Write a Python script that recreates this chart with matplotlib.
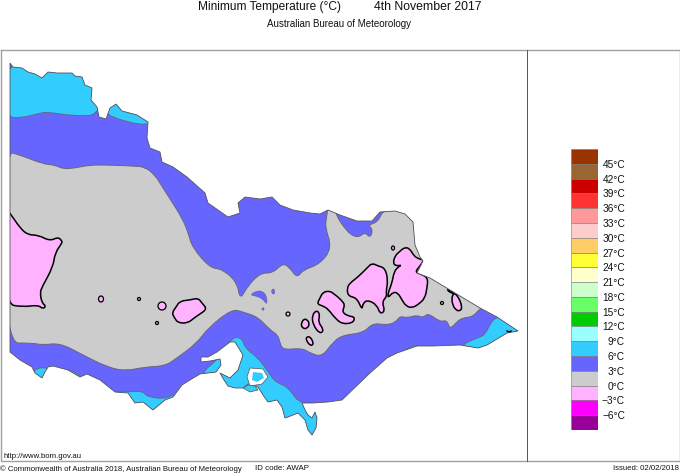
#!/bin/python3

import matplotlib
matplotlib.use('Agg')
import matplotlib.pyplot as plt
from matplotlib.patches import Polygon, Ellipse, PathPatch
from matplotlib.path import Path

plt.rcParams['font.family'] = ['Liberation Sans', 'DejaVu Sans']

# colour key, top cell to bottom cell
key_colors = ['#993300', '#996633', '#cc0000', '#ff3333', '#ff9999', '#ffcccc',
              '#ffcc66', '#ffff33', '#ffffcc', '#ccffcc', '#66ff66', '#00cc00',
              '#99ffff', '#33ccff', '#6666ff', '#cccccc', '#ffb3ff', '#ff00ff',
              '#990099']
key_labels = ['45', '42', '39', '36', '33', '30', '27', '24', '21', '18', '15',
              '12', '9', '6', '3', '0', '\u22123', '\u22126']

# map outlines
state = [(10,63),(13,67),(22,68),(28,72),(35,74),(42,78),(48,72),(57,73),(72,73),
         (75,76),(82,77),(85,85),(92,88),(91,100),(97,107),(99,117),(106,119),
         (110,108),(116,104),(122,111),(137,115),(148,122),(147,138),(150,148),
         (160,152),(162,162),(173,167),(187,177),(205,193),(208,203),(228,217),
         (240,213),(238,203),(245,197),(260,199),(272,197),(280,205),(293,210),
         (310,213),(320,214),(328,210),(340,215),(357,221),(372,221),(380,212),
         (395,211),(405,214),(413,222),(415,245),(420,257),(423,261),(417,273),
         (430,278),(480,308),(497,317),(518,331),(507,333),(487,345),(478,348),
         (460,345),(433,346),(417,346),(397,353),(387,358),(370,373),(342,400),
         (328,402),(313,403),(302,403),(305,410),(308,415),(312,418),(315,412),
         (317,418),(316,428),(312,435),(308,430),(305,420),(298,413),(288,417),
         (285,418),(282,407),(277,400),(268,402),(263,395),(258,387),(248,384),
         (243,388),(235,388),(228,386),(224,380),(220,373),(230,378),(238,370),
         (243,355),(235,342),(230,342),(217,352),(208,357),(201,357),(201,362),
         (210,361),(220,359),(221,365),(216,372),(200,374),(190,380),(182,385),
         (173,397),(165,400),(153,410),(143,402),(135,403),(128,393),(115,392),
         (100,380),(87,374),(80,377),(68,370),(53,366),(48,367),(45,372),(42,378),
         (35,373),(32,367),(20,360),(10,352)]

cool_zone = [(5,151),(20,155),(43,164),(55,165),(63,169),(75,168),(90,165),(107,165),
             (133,166),(145,167),(155,175),(163,188),(172,202),(182,218),(188,232),
             (192,247),(210,268),(222,269),(237,282),(240,300),(247,287),(260,273),
             (273,273),(283,263),(290,268),(297,278),(303,270),(320,264),(332,248),
             (325,227),(327,215),(328,205),(336,205),(335,214),(348,233),(358,238),
             (365,232),(370,238),(373,230),(368,225),(378,222),(384,208),(430,205),
             (500,300),(480,308),(473,317),(460,318),(450,330),(447,320),(440,322),
             (428,313),(423,318),(417,315),(407,318),(400,316),(395,323),(385,325),
             (373,323),(363,333),(343,335),(333,342),(322,357),(310,353),(302,348),
             (283,350),(280,343),(278,335),(270,330),(258,317),(243,312),(232,309),
             (208,328),(197,343),(177,358),(165,366),(145,367),(125,371),(107,367),
             (83,355),(60,343),(43,345),(32,343),(5,343)]

mild_patches = [[(250,295),(256,291),(263,291),(267,297),(267,305),(263,299),(256,296)],
                [(271,292),(273,288),(275,291),(274,295)],
                [(261,309),(264,307),(264,311)]]

warm_zones = [[(5,117),(22,118),(40,113),(48,112),(73,116),(103,115),(100,55),(5,55)],
              [(110,117),(148,127),(155,115),(115,95),(105,110)],
              [(33,369),(48,367),(52,375),(52,385),(28,385)],
              [(66,368),(82,376),(82,385),(60,375)],
              [(112,391),(128,392),(143,391),(147,397),(167,399),(176,392),(176,420),(112,420)],
              [(198,375),(220,358),(232,337),(242,338),(245,348),(258,358),(267,370),
               (275,382),(288,387),(298,402),(313,404),(330,404),(330,440),(198,440)],
              [(395,358),(405,350),(417,344),(420,350),(400,360)],
              [(498,316),(491,322),(485,335),(477,338),(459,346),(480,360),(530,340),(525,320)]]

cold_zones = [[(5,208),(10,213),(20,228),(28,235),(38,235),(50,241),(58,237),(62,241),(62,243),
               (55,253),(53,267),(42,287),(40,293),(42,303),(46,306),(43,309),(38,305),
               (23,307),(5,304)],
              [(172,313),(176,307),(180,301),(190,300),(198,298),(202,303),(207,309),(200,314),
               (194,318),(188,323),(178,323),(174,317)],
              [(317,304),(320,298),(323,292),(330,291),(334,294),(338,297),(342,301),(345,305),
               (342,312),(348,316),(355,317),(353,323),(342,324),(335,318),(328,309),(323,306)],
              [(301,323),(305,318),(310,323),(307,329),(302,328)],
              [(312,315),(317,310),(320,315),(318,322),(324,330),(320,334),(313,325)],
              [(305,338),(310,336),(314,344),(310,346)],
              [(347,288),(350,283),(358,277),(367,268),(372,263),(378,266),(385,268),(388,280),
               (386,292),(387,296),(382,302),(385,311),(380,314),(377,305),(368,300),(363,303),
               (362,310),(357,298),(348,296)],
              [(388,293),(392,283),(394,272),(398,267),(402,265),(396,266),(393,263),(395,256),
               (399,252),(405,247),(410,249),(414,256),(419,259),(424,260),(420,266),(415,272),
               (421,274),(428,278),(427,288),(425,298),(419,304),(412,308),(406,306),(402,300),
               (398,293),(393,292),(388,298)],
              [(452,294),(457,294),(463,308),(458,312),(452,305)],
              [(447,289),(452,291),(455,294),(449,292)]]

# x, y, width, height of the little closed contours
cold_spots = [(101,299,5,6),(139,299,3,3),(162,306,8,8),(157,323,3,3),(393,248,3,4),
              (288,314,4,4),(442,303,3,3)]

western_port = [(250,368),(263,369),(268,377),(262,384),(250,386),(247,377)]
french_island = [(253,372),(262,373),(264,378),(257,382),(252,380)]
phillip_island = [(243,388),(248,385),(255,386),(258,390),(250,392)]

def patch(ax, pts, color, edge, lw, z, clip=None):
  p = Polygon(pts, closed=True, facecolor=color, edgecolor=edge, linewidth=lw, zorder=z)
  ax.add_patch(p)
  if clip is not None:
    p.set_clip_path(clip)
  return p

def smooth(ax, pts, color, edge, lw, z, clip=None):
  # contour look: quadratic curves through the edge midpoints
  n = len(pts)
  mids = [((pts[i][0]+pts[(i+1)%n][0])/2, (pts[i][1]+pts[(i+1)%n][1])/2) for i in range(n)]
  verts = [mids[-1]]
  codes = [Path.MOVETO]
  for i in range(n):
    verts += [pts[i], mids[i]]
    codes += [Path.CURVE3, Path.CURVE3]
  p = PathPatch(Path(verts, codes), facecolor=color, edgecolor=edge, linewidth=lw, zorder=z)
  ax.add_patch(p)
  if clip is not None:
    p.set_clip_path(clip)
  return p

fig = plt.figure(figsize=(6.8, 4.74), dpi=100)
ax = fig.add_axes([0, 0, 1, 1])
ax.set_xlim(0, 680)
ax.set_ylim(474, 0)
ax.axis('off')

blue, cyan, grey, pink = '#6666ff', '#33ccff', '#cccccc', '#ffb3ff'
line = '#666677'

land = patch(ax, state, blue, 'none', 0, 1)
smooth(ax, cool_zone, grey, line, 0.7, 2, land)
for pts in mild_patches:
  smooth(ax, pts, blue, line, 0.4, 3, land)
for pts in warm_zones:
  smooth(ax, pts, cyan, line, 0.6, 3, land)
for pts in cold_zones:
  smooth(ax, pts, pink, 'k', 1.1, 4, land)
for x, y, w, h in cold_spots:
  e = Ellipse((x, y), w, h, facecolor=pink, edgecolor='k', linewidth=0.9, zorder=4)
  ax.add_patch(e)
patch(ax, state, 'none', '#555555', 0.6, 5)
patch(ax, western_port, 'white', '#555555', 0.5, 6)
patch(ax, french_island, cyan, 'none', 0, 7)
patch(ax, phillip_island, cyan, '#555555', 0.5, 7)
ax.plot([507, 509, 511], [331, 332, 331], color='k', lw=1.0, zorder=8)

# frame
frame = '#a0a0a0'
ax.plot([0.5, 0.5, 679.5, 679.5, 0.5], [49.5, 461, 461, 49.5, 49.5], color=frame, lw=1.0, zorder=9)
ax.plot([527, 527], [49.5, 461], color='#555555', lw=0.7, zorder=9)

# colour key on its own axes, one cell per colour
n = len(key_colors)
kax = fig.add_axes([571/680, 1-430/474, 27/680, 281/474])
kax.barh(range(n), [1]*n, height=1, left=0, color=key_colors, edgecolor='#777777', linewidth=0.4)
kax.set_xlim(0, 1)
kax.set_ylim(n-0.5, -0.5)
kax.yaxis.tick_right()
kax.set_yticks([i+0.5 for i in range(n-1)])
kax.set_yticklabels([s + '\u00b0C' for s in key_labels], fontsize=7.3, color='#111111', ha='right')
kax.tick_params(axis='y', length=0, pad=19.4)
kax.set_xticks([])
for s in kax.spines.values():
  s.set_visible(False)

def label(x, y, s, size, ha='left'):
  ax.text(x, y, s, fontsize=size, ha=ha, va='center', color='#111111', zorder=10)

label(198, 6.5, 'Minimum Temperature (\u00b0C)', 8.55)
label(374, 6.5, '4th November 2017', 8.8)
label(267, 24, 'Australian Bureau of Meteorology', 7.05)
label(4, 456, 'http://www.bom.gov.au', 5.6)
label(0, 469, '\u00a9 Commonwealth of Australia 2018, Australian Bureau of Meteorology', 5.55)
label(255, 469, 'ID code: AWAP', 5.7)
label(679, 469, 'Issued: 02/02/2018', 5.6, ha='right')

fig.savefig('out.png', dpi=100)
